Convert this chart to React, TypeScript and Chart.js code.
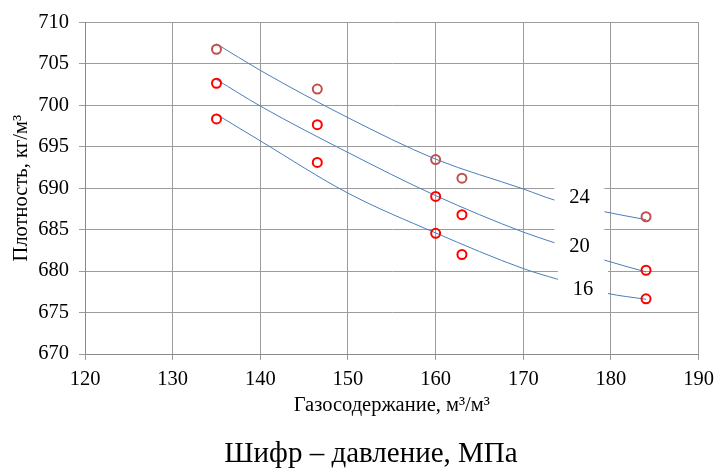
import React, { useEffect, useRef } from "react";
import { Chart, registerables } from "chart.js";

Chart.register(...registerables);

// Measured data points (gas content, m3/m3 -> density, kg/m3)
const gasContent = [135, 146.5, 160, 163, 184];
const density24 = [706.75, 701.95, 693.45, 691.2, 686.55];
const density20 = [702.65, 697.65, 689.0, 686.8, 680.1];
const density16 = [698.35, 693.1, 684.55, 682.0, 676.65];

// Trend curves
const trend24X = [135, 140, 150, 160, 170, 173.6, 179.2, 184];
const trend24Y = [707.4, 704.2, 698.5, 693.5, 689.9, 688.55, 687.17, 686.2];
const trend20X = [135, 140, 150, 160, 170, 173.6, 179.2, 184];
const trend20Y = [703.1, 699.9, 694.3, 689.1, 684.7, 683.4, 681.34, 679.9];
const trend16X = [135, 140, 150, 160, 170, 173.8, 179.5, 184];
const trend16Y = [698.9, 695.7, 689.4, 684.6, 680.3, 679.05, 677.33, 676.6];

// Curve labels (pressure, MPa)
const curveLabels = ["24", "20", "16"];
const labelX = [176.4, 176.4, 176.8];
const labelY = [688.8, 682.9, 677.8];

const xMin = 120, xMax = 190, xStep = 10;
const yMin = 670, yMax = 710, yStep = 5;

const xTitle = "Газосодержание, м³/м³";
const yTitle = "Плотность, кг/м³";
const caption = "Шифр – давление, МПа";

const zip = (xs: number[], ys: number[]) => xs.map((x, i) => ({ x, y: ys[i] }));

const SERIF = "'Liberation Serif', 'Times New Roman', serif";

export default function App() {
  const ref = useRef<HTMLCanvasElement | null>(null);

  useEffect(() => {
    document.body.style.margin = "0";
    const canvas = ref.current;
    if (!canvas) return;

    const labelPlugin = {
      id: "curveLabels",
      afterDatasetsDraw(chart: any) {
        const { ctx, scales } = chart;
        ctx.save();
        curveLabels.forEach((t, i) => {
          const cx = scales.x.getPixelForValue(labelX[i]);
          const cy = scales.y.getPixelForValue(labelY[i]);
          ctx.fillStyle = "#ffffff";
          ctx.fillRect(cx - 25, cy - 21, 50, 36);
          ctx.fillStyle = "#000000";
          ctx.font = `20.5px ${SERIF}`;
          ctx.textAlign = "center";
          ctx.textBaseline = "middle";
          ctx.fillText(t, cx, cy);
        });
        ctx.restore();
      },
      afterDraw(chart: any) {
        const { ctx } = chart;
        ctx.save();
        ctx.fillStyle = "#000000";
        ctx.font = `29px ${SERIF}`;
        ctx.textAlign = "center";
        ctx.textBaseline = "middle";
        ctx.fillText(caption, 371, 454);
        ctx.restore();
      },
    };

    const lineDs = (xs: number[], ys: number[]) => ({
      type: "line" as const,
      data: zip(xs, ys),
      showLine: true,
      borderColor: "#4a7ebb",
      borderWidth: 1,
      pointRadius: 0,
      fill: false,
      cubicInterpolationMode: "monotone" as const,
      order: 2,
    });

    const pointDs = (ys: number[], color: string) => ({
      type: "scatter" as const,
      data: zip(gasContent, ys),
      showLine: false,
      pointRadius: 4.5,
      pointBorderWidth: 2,
      borderColor: color,
      backgroundColor: "rgba(255,255,255,0)",
      pointStyle: "circle",
      order: 1,
    });

    const chart = new Chart(canvas, {
      type: "scatter",
      data: {
        datasets: [
          lineDs(trend24X, trend24Y),
          lineDs(trend20X, trend20Y),
          lineDs(trend16X, trend16Y),
          pointDs(density24, "#c0504d"),
          pointDs(density20, "#ff0000"),
          pointDs(density16, "#ff0000"),
        ] as any,
      },
      options: {
        animation: false,
        responsive: false,
        layout: { padding: { left: 0, top: 16, right: 18, bottom: 52 } },
        plugins: {
          legend: { display: false },
          tooltip: { enabled: false },
          title: { display: false },
        },
        scales: {
          x: {
            type: "linear",
            min: xMin,
            max: xMax,
            afterFit: (s: any) => { s.height = 64; },
            ticks: {
              stepSize: xStep,
              color: "#000",
              font: { family: SERIF, size: 20.5 },
              padding: 7,
            },
            grid: { color: "#9c9c9c", lineWidth: 1, tickLength: 6, drawTicks: true },
            border: { color: "#8a8a8a", width: 1 },
            title: {
              display: true,
              text: xTitle,
              color: "#000",
              font: { family: SERIF, size: 20.5 },
              padding: { top: 0, bottom: 0 },
            },
          },
          y: {
            type: "linear",
            min: yMin,
            max: yMax,
            afterFit: (s: any) => { s.width = 85; },
            ticks: {
              stepSize: yStep,
              color: "#000",
              font: { family: SERIF, size: 20.5 },
              padding: 10,
            },
            grid: { color: "#9c9c9c", lineWidth: 1, tickLength: 6, drawTicks: true },
            border: { color: "#8a8a8a", width: 1 },
            title: {
              display: true,
              text: yTitle,
              color: "#000",
              font: { family: SERIF, size: 20.5 },
              padding: { top: 9, bottom: 0 },
            },
          },
        },
      },
      plugins: [labelPlugin],
    });

    return () => chart.destroy();
  }, []);

  return (
    <div style={{ width: 721, height: 470 }}>
      <canvas ref={ref} width={721} height={470} style={{ display: "block" }} />
    </div>
  );
}
